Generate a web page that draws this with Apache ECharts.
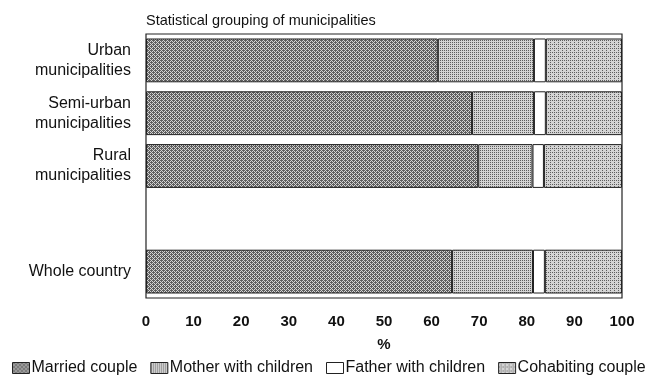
<!DOCTYPE html>
<html>
<head>
<meta charset="utf-8">
<script src="https://cdn.jsdelivr.net/npm/echarts@6/dist/echarts.min.js"></script>
<style>
  html, body { margin: 0; padding: 0; background: #fff; }
  #chart { width: 654px; height: 378px; }
</style>
</head>
<body>
<div id="chart"></div>
<script>
// Household types by statistical grouping of municipalities (%)
const categories = [
  'Urban\nmunicipalities',
  'Semi-urban\nmunicipalities',
  'Rural\nmunicipalities',
  '',
  'Whole country'
];
const seriesNames = ['Married couple', 'Mother with children', 'Father with children', 'Cohabiting couple'];
const married    = [61.3, 68.5, 69.8, '-', 64.3];
const mother     = [20.2, 13.0, 11.4, '-', 17.0];
const father     = [2.5, 2.5, 2.4, '-', 2.5];
const cohabiting = [16.0, 16.0, 16.4, '-', 16.2];
const xTicks = [0, 10, 20, 30, 40, 50, 60, 70, 80, 90, 100];

const FONT = '"Liberation Sans", Arial, sans-serif';

// Ordered-dither stipple used as the fill of the shaded bars
const BAYER = [[0, 8, 2, 10], [12, 4, 14, 6], [3, 11, 1, 9], [15, 7, 13, 5]];
function stipple(darkCount) {
  const c = document.createElement('canvas');
  c.width = 4; c.height = 4;
  const ctx = c.getContext('2d');
  for (let y = 0; y < 4; y++) {
    for (let x = 0; x < 4; x++) {
      ctx.fillStyle = BAYER[y][x] < darkCount ? '#5e5e5e' : '#d4d4d4';
      ctx.fillRect(x, y, 1, 1);
    }
  }
  return { image: c, repeat: 'repeat' };
}
const fills = [stipple(10), stipple(4), '#ffffff', stipple(3)];
const values = [married, mother, father, cohabiting];

const chart = echarts.init(document.getElementById('chart'), null, { renderer: 'canvas' });
chart.setOption({
  animation: false,
  backgroundColor: '#ffffff',
  title: {
    text: 'Statistical grouping of municipalities',
    left: 141, top: 8,
    textStyle: { fontFamily: FONT, fontSize: 14.5, fontWeight: 'normal', color: '#111' }
  },
  grid: {
    left: 146, right: 32, top: 34, bottom: 80,
    show: true, borderColor: '#222', borderWidth: 1.2, backgroundColor: 'transparent'
  },
  legend: {
    bottom: -3, left: 7,
    icon: 'rect',
    itemWidth: 17, itemHeight: 11, itemGap: 13,
    textStyle: { fontFamily: FONT, fontSize: 16, color: '#111', padding: [0, 0, 0, -3] },
    data: seriesNames.map((n, i) => ({
      name: n,
      itemStyle: { color: fills[i], borderColor: '#222', borderWidth: 1 }
    }))
  },
  xAxis: {
    type: 'value', min: 0, max: 100, interval: 10,
    name: '%', nameLocation: 'middle', nameGap: 39,
    nameTextStyle: { fontFamily: FONT, fontSize: 15, fontWeight: 'bold', color: '#111' },
    axisLine: { show: false }, axisTick: { show: false }, splitLine: { show: false },
    axisLabel: {
      margin: 16, fontFamily: FONT, fontSize: 15, fontWeight: 'bold', color: '#111',
      formatter: v => xTicks.includes(v) ? String(v) : ''
    }
  },
  yAxis: {
    type: 'category', data: categories, inverse: true,
    axisLine: { show: false }, axisTick: { show: false }, splitLine: { show: false },
    axisLabel: {
      margin: 15, fontFamily: FONT, fontSize: 16, color: '#111', lineHeight: 20, align: 'right'
    }
  },
  series: seriesNames.map((n, i) => ({
    name: n, type: 'bar', stack: 'total', barWidth: '83%',
    data: values[i],
    itemStyle: { color: fills[i], borderColor: '#222', borderWidth: 1 }
  }))
});
</script>
</body>
</html>
